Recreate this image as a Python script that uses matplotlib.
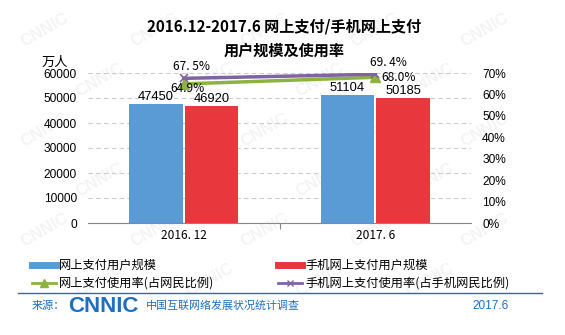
import matplotlib.pyplot as plt
from matplotlib.lines import Line2D
import numpy as np

plt.rcParams["font.family"] = ["Liberation Sans", "Noto Sans CJK SC", "DejaVu Sans"]

# user scale (10k people) and usage rates
periods = ["2016. 12", "2017. 6"]
online_pay_users = [47450, 51104]
mobile_pay_users = [46920, 50185]
online_pay_rate = [64.9, 68.0]
mobile_pay_rate = [67.5, 69.4]

series_names = ["网上支付用户规模", "手机网上支付用户规模",
                "网上支付使用率(占网民比例)", "手机网上支付使用率(占手机网民比例)"]

BLUE = "#5B9BD5"
RED = "#E8383D"
GREEN = "#8DB33F"
PURPLE = "#8064A2"
FOOT = "#1F6EC0"
CJK = ["Noto Sans CJK SC", "DejaVu Sans"]

fig = plt.figure(figsize=(5.65, 3.35), dpi=100)
W, H = 565, 335


def fx(px):
    return px / W


def fy(py):
    return 1 - py / H


# faint watermark behind everything
for row, yy in enumerate(np.arange(30, 320, 50)):
    for xx in np.arange(45 + (row % 2) * 55, 530, 110):
        fig.text(fx(xx), fy(yy), "CNNIC", fontsize=12, fontweight="bold",
                 color="#f4f4f4", rotation=30, ha="center", va="center", zorder=-5)

ax = fig.add_axes([fx(88), fy(223), fx(471) - fx(88), fy(73) - fy(223)])
ax.patch.set_alpha(0)
x = np.arange(len(periods))
w = 0.28

b1 = ax.bar(x - w / 2 - 0.005, online_pay_users, w, color=BLUE, zorder=3)
b2 = ax.bar(x + w / 2 + 0.005, mobile_pay_users, w, color=RED, zorder=3)
for bars, vals in ((b1, online_pay_users), (b2, mobile_pay_users)):
    for rect, v in zip(bars, vals):
        ax.text(rect.get_x() + rect.get_width() / 2, v + 400, str(v),
                ha="center", va="bottom", fontsize=9.3, zorder=4)

ax.set_xlim(-0.5, 1.5)
ax.set_ylim(0, 60000)
ax.set_yticks(range(0, 60001, 10000))
ax.tick_params(axis="y", length=0, labelsize=8.6, pad=8)
ax.set_xticks([0.5])
ax.set_xticklabels([""])
ax.tick_params(axis="x", length=4, color="#888888", direction="out")
for i, p in enumerate(periods):
    ax.text(i, -2400, p, ha="center", va="top", fontsize=8.6, family=CJK)
ax.grid(axis="y", color="#cccccc", linestyle=(0, (4, 3)), linewidth=0.8, zorder=0)
for s in ("top", "left", "right"):
    ax.spines[s].set_visible(False)
ax.spines["bottom"].set_color("#888888")

ax2 = ax.twinx()
ax2.plot(x, online_pay_rate, color=GREEN, lw=2.5, marker="^", ms=7, zorder=5)
ax2.plot(x, mobile_pay_rate, color=PURPLE, lw=2.5, marker="x", ms=6, mew=1.2, zorder=5)
ax2.set_ylim(0, 70)
ax2.set_yticks(range(0, 71, 10))
ax2.set_yticklabels([f"{t}%" for t in range(0, 71, 10)])
ax2.tick_params(axis="y", length=0, labelsize=8.6, pad=8)
for s in ("top", "left", "right", "bottom"):
    ax2.spines[s].set_visible(False)

lbl = dict(fontsize=8.6, family=CJK, zorder=6)
ax2.text(x[0] + 0.04, mobile_pay_rate[0] + 2.5, "67. 5%", ha="center", va="bottom", **lbl)
ax2.text(x[0] + 0.02, online_pay_rate[0] - 2.3, "64.9%", ha="center", va="center", **lbl)
ax2.text(x[1] + 0.07, mobile_pay_rate[1] + 2.3, "69. 4%", ha="center", va="bottom", **lbl)
ax2.text(x[1] + 0.03, online_pay_rate[1], "68.0%", ha="left", va="center", **lbl)

fig.text(fx(55), fy(62), "万人", fontsize=9.5, ha="center", va="center", family=CJK)

# title
fig.text(fx(284), fy(27), "2016.12-2017.6 网上支付/手机网上支付", fontsize=10.9,
         fontweight="bold", ha="center", va="center", family=CJK)
fig.text(fx(284), fy(51), "用户规模及使用率", fontsize=10.9,
         fontweight="bold", ha="center", va="center", family=CJK)

# legend
leg = [
    (32, 265, BLUE, 5),
    (278, 265, RED, 5),
    (32, 283, GREEN, 2),
    (278, 283, PURPLE, 2),
]
for (px, py, col, lw), name in zip(leg, series_names):
    fig.add_artist(Line2D([fx(px), fx(px + 24)], [fy(py)] * 2, color=col, lw=lw))
    fig.text(fx(px + 27), fy(py), name, fontsize=8.8, va="center", family=CJK)
fig.add_artist(Line2D([fx(44)], [fy(283)], color=GREEN, marker="^", ms=6, lw=0))
fig.add_artist(Line2D([fx(290)], [fy(283)], color=PURPLE, marker="x", ms=5, mew=1, lw=0))

# footer
fig.add_artist(Line2D([fx(18), fx(542)], [fy(293)] * 2, color=FOOT, lw=1))
fig.text(fx(32), fy(306), "来源：", fontsize=8, color=FOOT, va="center", family=CJK)
fig.text(fx(68), fy(306), "CNNIC", fontsize=16, fontweight="bold", color=FOOT,
         va="center", family=["Liberation Sans"])
fig.text(fx(146), fy(306), "中国互联网络发展状况统计调查", fontsize=7.9, color=FOOT,
         va="center", family=CJK)
fig.text(fx(509), fy(306), "2017.6", fontsize=8.5, color=FOOT, ha="right", va="center")

fig.savefig("out.png", dpi=100)
